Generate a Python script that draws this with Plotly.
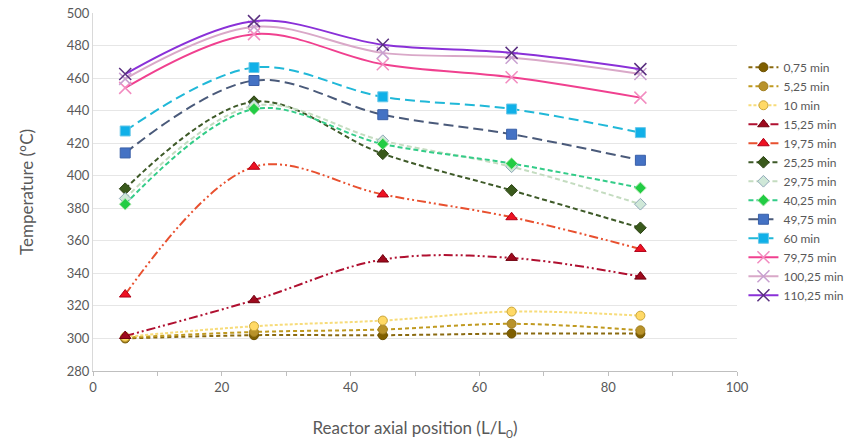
import plotly.graph_objects as go

positions = [5, 25, 45, 65, 85]

series_names = ["0,75 min", "5,25 min", "10 min", "15,25 min", "19,75 min",
                "25,25 min", "29,75 min", "40,25 min", "49,75 min", "60 min",
                "79,75 min", "100,25 min", "110,25 min"]

t_0_75 = [300, 302, 302, 303, 303]
t_5_25 = [300.5, 304, 305.5, 309, 305]
t_10 = [301, 307.5, 311, 316.5, 314]
t_15_25 = [301.5, 323.5, 348.5, 349.5, 338]
t_19_75 = [327, 405.5, 388.5, 374.5, 355]
t_25_25 = [392, 445.5, 413.5, 391, 368]
t_29_75 = [386, 443, 421.5, 405.5, 382.5]
t_40_25 = [382.5, 441, 419.5, 407.5, 392.5]
t_49_75 = [414, 458.5, 437.5, 425.5, 409.5]
t_60 = [427.5, 466.5, 448.5, 441, 426.5]
t_79_75 = [454, 487, 468.5, 460.5, 448]
t_100_25 = [459.5, 491.5, 475.5, 472.5, 462.5]
t_110_25 = [462.5, 495, 480.5, 475.5, 465.5]

values = [t_0_75, t_5_25, t_10, t_15_25, t_19_75, t_25_25, t_29_75, t_40_25,
          t_49_75, t_60, t_79_75, t_100_25, t_110_25]

# (line colour, dash, marker symbol, marker fill, marker border, marker size)
styles = [
    ("#8a6a10", "4px,3px", "circle", "#7f5f00", "#6b5000", 9),
    ("#c09a20", "4px,3px", "circle", "#b8922a", "#a07e20", 9),
    ("#f7dc7a", "3px,2px", "circle", "#ffd966", "#c9a53a", 9),
    ("#b01030", "9px,3px,2px,3px,2px,3px", "triangle-up", "#9e0a1e", "#70000f", 10),
    ("#e8502f", "9px,3px,2px,3px,2px,3px", "triangle-up", "#ee1122", "#b00018", 10),
    ("#3e5a28", "5px,3px", "diamond", "#3a5a1c", "#2a4012", 9),
    ("#c4dcc0", "5px,3px", "diamond", "#cfe8d8", "#8fa8b8", 9),
    ("#33cc88", "5px,3px", "diamond", "#22cc44", "#b0e8b0", 9),
    ("#4a5a7a", "10px,5px", "square", "#4472c4", "#3a60a8", 10),
    ("#20b8d8", "10px,5px", "square", "#10b0e8", "#6ac8e8", 10),
    ("#f0408f", "solid", "x-thin", "#f28cc0", "#f28cc0", 12),
    ("#d9a8c8", "solid", "x-thin", "#c8a0d0", "#c8a0d0", 12),
    ("#8a30d8", "solid", "x-thin", "#5a3080", "#5a3080", 12),
]

fig = go.Figure()
for name, vals, (lc, dash, sym, fill, border, size) in zip(series_names, values, styles):
    is_x = sym.startswith("x")
    fig.add_trace(go.Scatter(
        x=positions, y=vals, name=name, mode="lines+markers",
        line=dict(color=lc, width=2, dash=dash, shape="spline", smoothing=1),
        marker=dict(symbol=sym, size=size, color=fill,
                    line=dict(color=border, width=1.5 if is_x else 1)),
    ))

fam = "Lato, 'Open Sans', sans-serif"
axis_font = dict(family=fam, size=13, color="#595959")

fig.update_layout(
    width=856, height=445,
    margin=dict(l=93, r=119, t=13, b=74, autoexpand=False),
    paper_bgcolor="white", plot_bgcolor="white",
    font=axis_font,
    showlegend=True,
    legend=dict(x=1.01, xanchor="left", y=0.53, yanchor="middle",
                font=dict(family=fam, size=12, color="#595959"),
                bgcolor="rgba(0,0,0,0)", itemwidth=30, tracegroupgap=0),
    xaxis=dict(range=[0, 100], tick0=0, dtick=20, showgrid=False, zeroline=False,
               showline=True, linecolor="#bfbfbf", linewidth=1, automargin=False,
               ticks="outside", ticklen=4, tickcolor="#bfbfbf",
               minor=dict(dtick=10, ticks="outside", ticklen=4, tickcolor="#bfbfbf"),
               tickfont=axis_font,
               title=dict(text="Reactor axial position (L/L<sub>0</sub>)",
                          font=dict(family=fam, size=17, color="#595959"),
                          standoff=28)),
    yaxis=dict(range=[280, 500], tick0=280, dtick=20, showgrid=True, gridcolor="#e6e6e6",
               zeroline=False, showline=True, linecolor="#d9d9d9", linewidth=1,
               automargin=False, ticks="", tickfont=axis_font,
               title=dict(text="Temperature (°C)",
                          font=dict(family=fam, size=17, color="#595959"),
                          standoff=28)),
)

fig.write_html("out.html")
